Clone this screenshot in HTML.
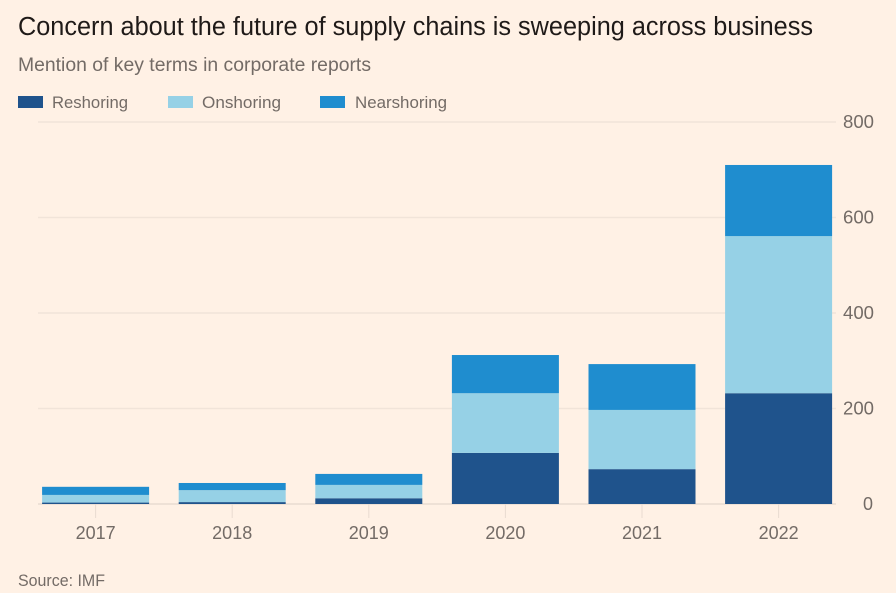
<!DOCTYPE html>
<html lang="en">
<head>
<meta charset="utf-8">
<title>Concern about the future of supply chains</title>
<style>
html,body{margin:0;padding:0;background:#fff1e5;}
svg{display:block;font-family:"Liberation Sans",sans-serif;}
</style>
</head>
<body>
<svg id="chart" width="896" height="593" viewBox="0 0 896 593" xmlns="http://www.w3.org/2000/svg">
  <rect x="0" y="0" width="896" height="593" fill="#fff1e5"/>
  <text x="18" y="35" font-size="25.5" fill="#1f1a18" textLength="795" lengthAdjust="spacingAndGlyphs">Concern about the future of supply chains is sweeping across business</text>
  <text x="18" y="71" font-size="19" fill="#736b66" textLength="353" lengthAdjust="spacingAndGlyphs">Mention of key terms in corporate reports</text>
  <g id="legend"></g>
  <g id="grid"></g>
  <g id="bars"></g>
  <g id="xaxis"></g>
  <g id="yaxis"></g>
  <text x="18" y="586" font-size="17" fill="#736b66" textLength="87" lengthAdjust="spacingAndGlyphs">Source: IMF</text>
</svg>
<script>
const categories = ["2017", "2018", "2019", "2020", "2021", "2022"];
const reshoring = [3, 4, 12, 107, 73, 232];
const onshoring = [16, 25, 28, 125, 124, 329];
const nearshoring = [17, 15, 23, 80, 96, 149];
const yTicks = [0, 200, 400, 600, 800];
const seriesNames = ["Reshoring", "Onshoring", "Nearshoring"];
const seriesColors = ["#1f538c", "#96d1e6", "#1f8dcf"];

const NS = "http://www.w3.org/2000/svg";
const plotLeft = 27.3, plotStep = 136.6, barWidth = 107;
const yZero = 504, yTop = 122, yMax = 800;

function y(v) { return yZero - (v / yMax) * (yZero - yTop); }
function xCenter(i) { return plotLeft + plotStep * (i + 0.5); }

function make(tag, attrs, parent, text) {
  const el = document.createElementNS(NS, tag);
  for (const k in attrs) el.setAttribute(k, attrs[k]);
  if (text !== undefined) el.textContent = text;
  parent.appendChild(el);
  return el;
}

const legend = document.getElementById("legend");
const legendSwatchX = [18, 168, 320];
const legendTextX = [52, 202, 355];
const legendTextW = [76, 79, 92];
seriesNames.forEach(function (name, i) {
  const sw = make("rect", { x: legendSwatchX[i], y: 96, width: 25, height: 12, fill: seriesColors[i] }, legend);
  
  
  const t = make("text", { x: legendTextX[i], y: 108, "font-size": 17, fill: "#736b66", textLength: legendTextW[i], lengthAdjust: "spacingAndGlyphs" }, legend, name);
  
  
});

const grid = document.getElementById("grid");
const yaxis = document.getElementById("yaxis");
yTicks.forEach(function (tick) {
  const line = make("line", { x1: 38, x2: 836, y1: y(tick), y2: y(tick), stroke: tick === 0 ? "#e9dcd1" : "#f1e4d9", "stroke-width": 1.5 }, grid);
  
  
  const label = make("text", { x: tick === 0 ? 863 : 843, y: y(tick) + 6, "font-size": 18, fill: "#736b66", textLength: tick === 0 ? 10 : 31, lengthAdjust: "spacingAndGlyphs" }, yaxis, String(tick));
  
  
});

const bars = document.getElementById("bars");
const xaxis = document.getElementById("xaxis");
const allSeries = [reshoring, onshoring, nearshoring];
categories.forEach(function (cat, i) {
  let base = 0;
  allSeries.forEach(function (series, s) {
    const top = base + series[i];
    const r = make("rect", { x: xCenter(i) - barWidth / 2, y: y(top), width: barWidth, height: y(base) - y(top), fill: seriesColors[s] }, bars);
    
    
    base = top;
  });
  const tick = make("line", { x1: xCenter(i), x2: xCenter(i), y1: yZero, y2: yZero + 14, stroke: "#e9dcd1", "stroke-width": 1 }, xaxis);
  
  
  const label = make("text", { x: xCenter(i), y: 539, "font-size": 18, fill: "#736b66", "text-anchor": "middle" }, xaxis, cat);
  
  
});
</script>
</body>
</html>
